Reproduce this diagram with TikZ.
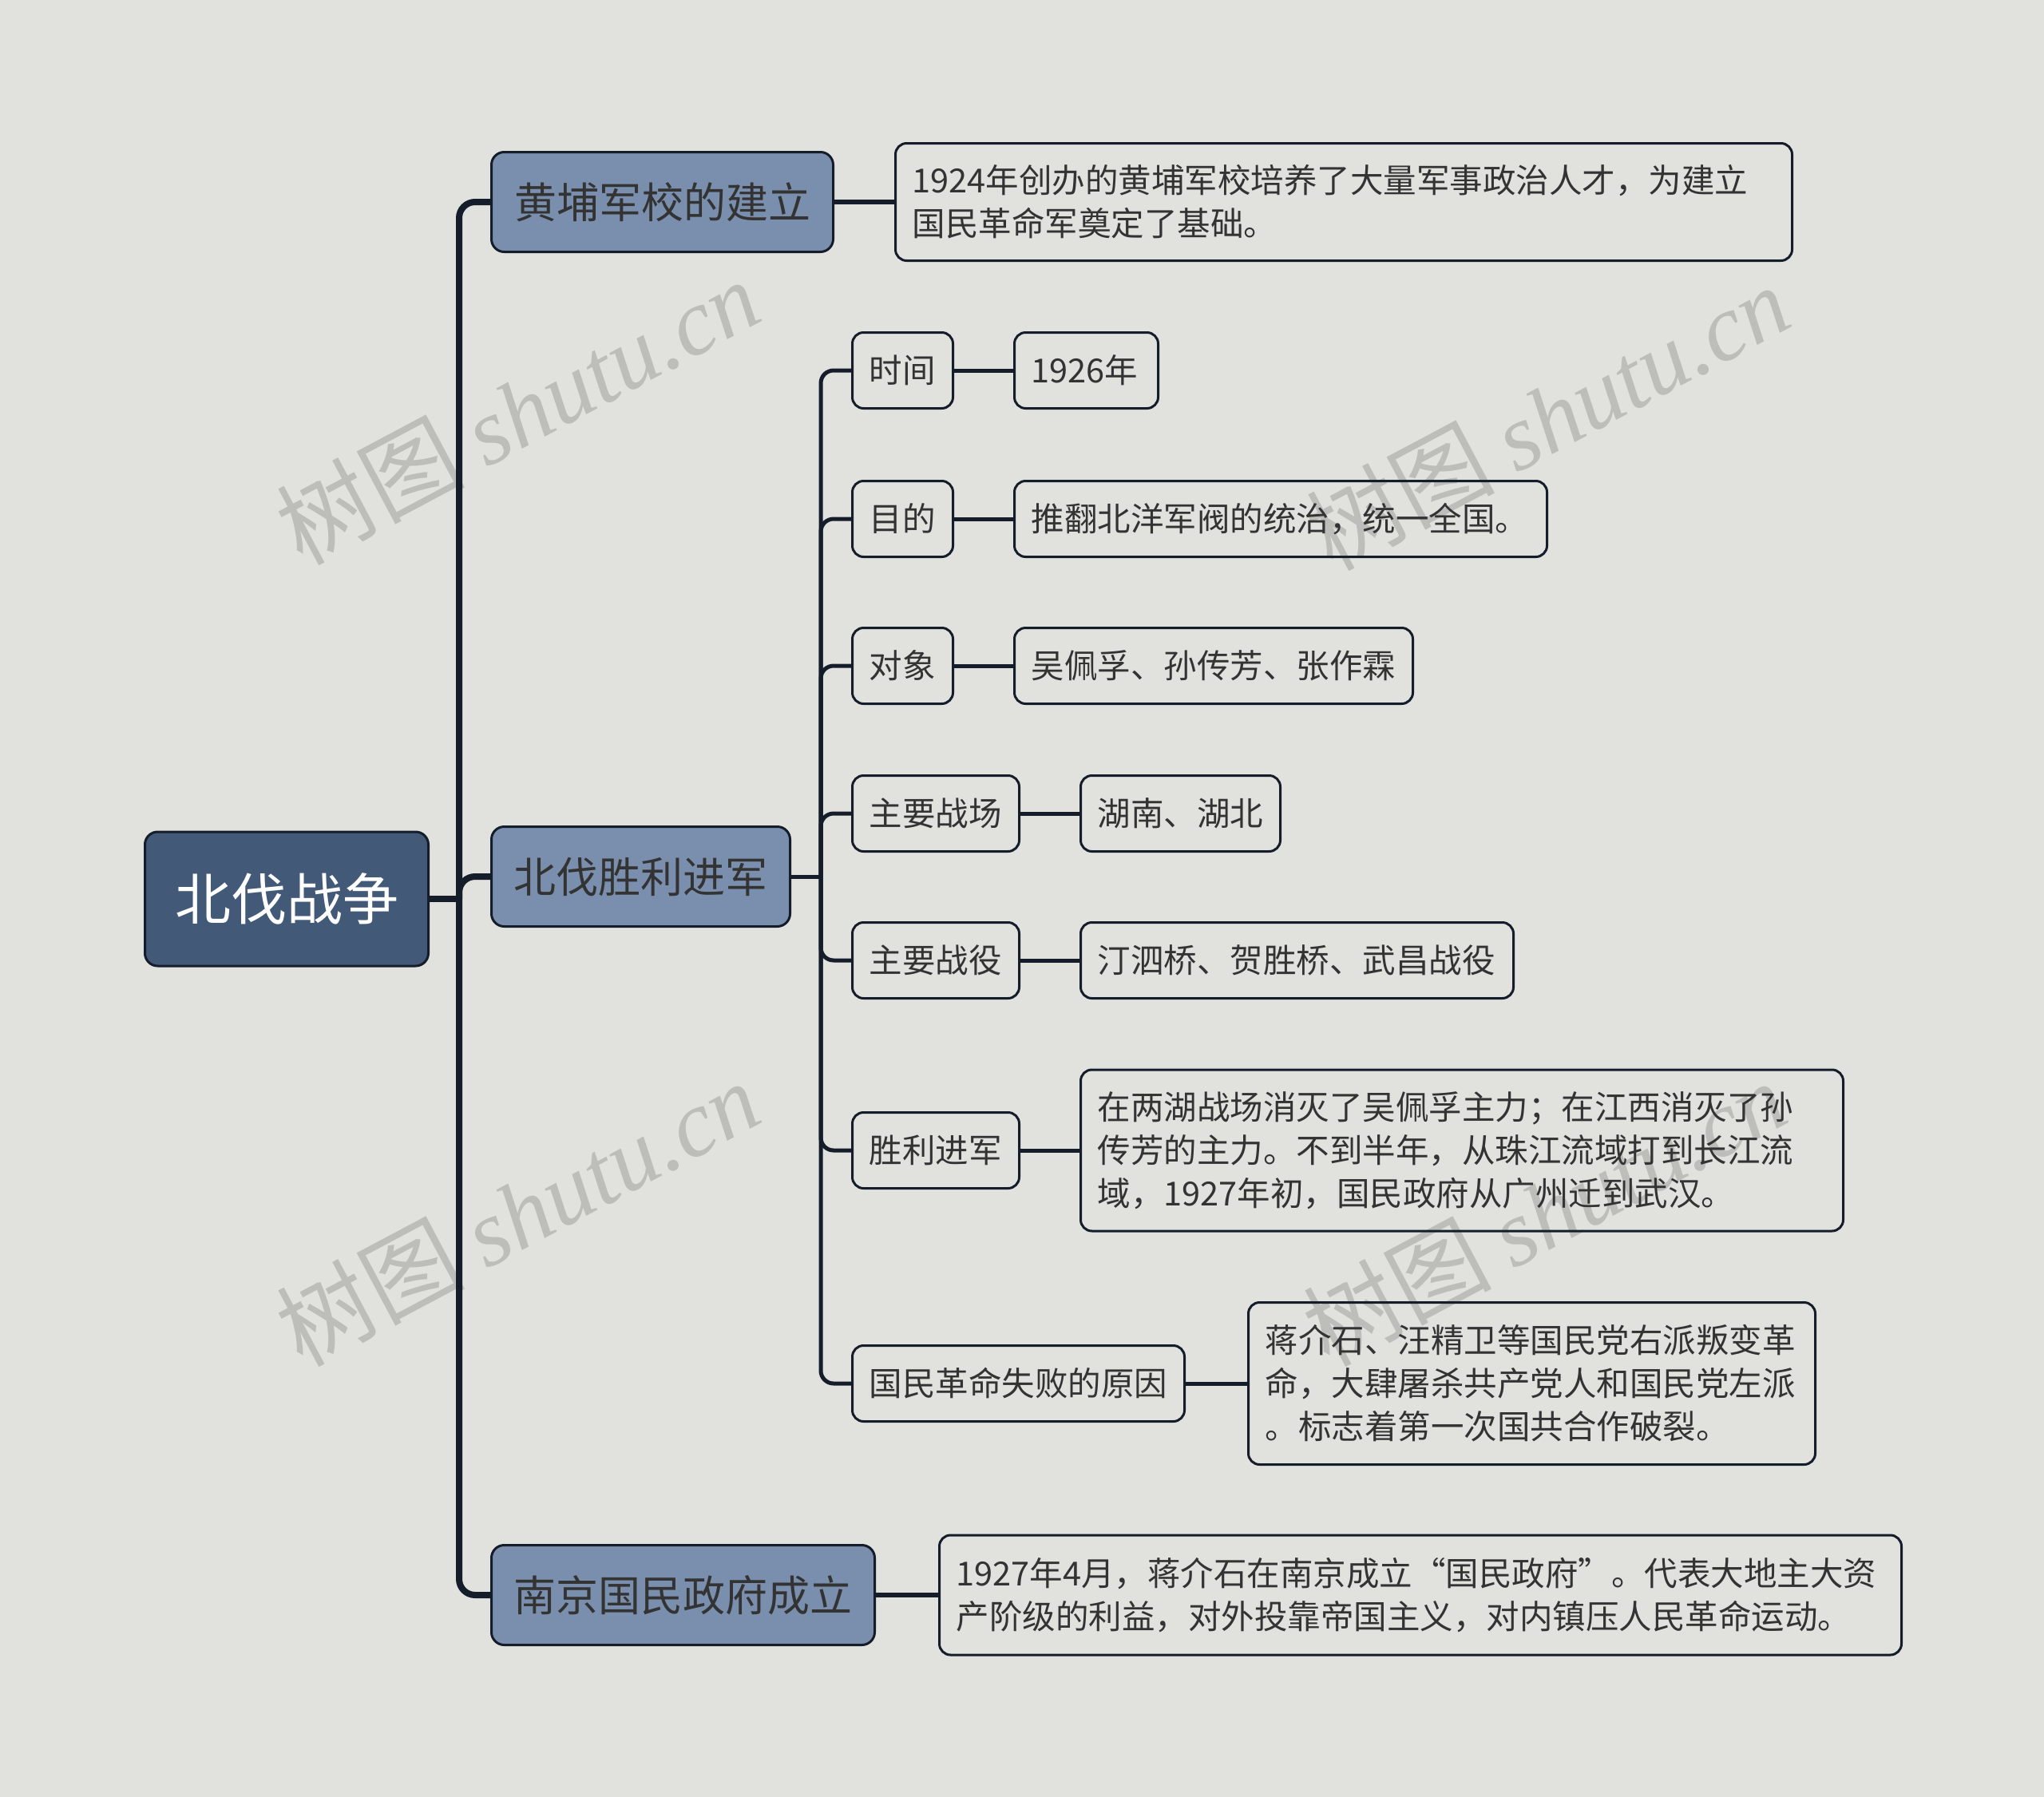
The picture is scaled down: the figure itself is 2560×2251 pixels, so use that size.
\documentclass[tikz,border=0pt]{standalone}
\usepackage{fontspec}
\setmainfont{Noto Sans CJK SC}
\newfontfamily\wmserif{Liberation Serif}
\definecolor{bgc}{HTML}{E1E2DE}
\definecolor{rootc}{HTML}{435978}
\definecolor{lonec}{HTML}{7A8FAD}
\definecolor{linec}{HTML}{151D2B}
\definecolor{txtc}{HTML}{333333}
\definecolor{wmc}{HTML}{BDBEB9}
\pgfdeclarelayer{bgl}
\pgfdeclarelayer{wml}
\pgfdeclarelayer{lines}
\pgfsetlayers{bgl,wml,lines,main}
\tikzset{
  rootbox/.style={draw=linec, line width=3pt, fill=rootc, rounded corners=16pt, text=white,
    font=\fontsize{70}{84}\selectfont, inner xsep=36pt, inner ysep=0pt, anchor=west, align=left},
  lonebox/.style={draw=linec, line width=3pt, fill=lonec, rounded corners=16pt, text=txtc,
    font=\fontsize{53}{64}\selectfont, inner xsep=26pt, inner ysep=0pt, anchor=west, align=left},
  ltwobox/.style={draw=linec, line width=3pt, rounded corners=14pt, text=txtc,
    font=\fontsize{41.5}{54}\selectfont, inner xsep=21pt, inner ysep=0pt, anchor=west, align=left,
    minimum height=95pt},
  mainline/.style={draw=linec, line width=8pt, rounded corners=20pt},
  oneline/.style={draw=linec, line width=6pt},
  twoline/.style={draw=linec, line width=5pt, rounded corners=16pt},
  wmark/.style={text=wmc, rotate=28, font=\fontsize{118}{124}\selectfont, inner sep=0pt}
}
\begin{document}
\begin{tikzpicture}[x=1pt, y=-1pt]
\begin{pgfonlayer}{bgl}
  \fill[bgc] (0,0) rectangle (2560,2251);
\end{pgfonlayer}
\useasboundingbox (0,0) rectangle (2560,2251);

% root and level 1
\node[rootbox, minimum width=355pt, minimum height=168pt] (root) at (180,1126) {北伐战争};
\node[lonebox, minimum width=428pt, minimum height=125pt] (hp) at (614,253) {黄埔军校的建立};
\node[lonebox, minimum width=374pt, minimum height=125pt] (bf) at (614,1098) {北伐胜利进军};
\node[lonebox, minimum width=480pt, minimum height=125pt] (nj) at (614,1998) {南京国民政府成立};

% level 1 leaves
\node[ltwobox, text width=1081pt, minimum height=147pt] (hpl) at (1120,253)
  {1924年创办的黄埔军校培养了大量军事政治人才，为建立\\国民革命军奠定了基础。};
\node[ltwobox, text width=1163pt, minimum height=150pt] (njl) at (1175,1998)
  {1927年4月，蒋介石在南京成立“国民政府”。代表大地主大资\\产阶级的利益，对外投靠帝国主义，对内镇压人民革命运动。};

% level 2
\node[ltwobox, text width=84pt] (t1) at (1066,464) {时间};
\node[ltwobox, text width=138pt] (t1l) at (1269,464) {1926年};
\node[ltwobox, text width=84pt] (t2) at (1066,650) {目的};
\node[ltwobox, text width=625pt] (t2l) at (1269,650) {推翻北洋军阀的统治，统一全国。};
\node[ltwobox, text width=84pt] (t3) at (1066,834) {对象};
\node[ltwobox, text width=457pt] (t3l) at (1269,834) {吴佩孚、孙传芳、张作霖};
\node[ltwobox, text width=167pt] (t4) at (1066,1019) {主要战场};
\node[ltwobox, text width=208pt] (t4l) at (1352,1019) {湖南、湖北};
\node[ltwobox, text width=167pt] (t5) at (1066,1203) {主要战役};
\node[ltwobox, text width=500pt] (t5l) at (1352,1203) {汀泗桥、贺胜桥、武昌战役};
\node[ltwobox, text width=167pt] (t6) at (1066,1441) {胜利进军};
\node[ltwobox, text width=913pt, minimum height=202pt] (t6l) at (1352,1441)
  {在两湖战场消灭了吴佩孚主力；在江西消灭了孙\\传芳的主力。不到半年，从珠江流域打到长江流\\域，1927年初，国民政府从广州迁到武汉。};
\node[ltwobox, text width=374pt] (t7) at (1066,1733) {国民革命失败的原因};
\node[ltwobox, text width=668pt, minimum height=203pt] (t7l) at (1562,1733)
  {蒋介石、汪精卫等国民党右派叛变革\\命，大肆屠杀共产党人和国民党左派\\。标志着第一次国共合作破裂。};

\coordinate (trunkA) at (575,1126);
\coordinate (trunkB) at (1028,1098);

\begin{pgfonlayer}{lines}
  \draw[mainline] (root.east) -- (trunkA);
  \draw[mainline] (trunkA) |- (hp.west);
  \draw[mainline] (trunkA) |- (bf.west);
  \draw[mainline] (trunkA) |- (nj.west);
  \draw[oneline] (hp.east) -- (hpl.west);
  \draw[oneline] (nj.east) -- (njl.west);
  \draw[twoline] (bf.east) -- (trunkB);
  \foreach \n in {t1,t2,t3,t4,t5,t6,t7}{
    \draw[twoline] (trunkB) |- (\n.west);
    \draw[twoline] (\n.east) -- (\n l.west);
  }
\end{pgfonlayer}

\begin{pgfonlayer}{wml}
  \node[wmark] (wma) at (648,515) {树图 {\wmserif\itshape shutu.cn}};
  \node[wmark] (wmb) at (1938,522) {树图 {\wmserif\itshape shutu.cn}};
  \node[wmark] (wmc) at (648,1519) {树图 {\wmserif\itshape shutu.cn}};
  \node[wmark] (wmd) at (1934,1519) {树图 {\wmserif\itshape shutu.cn}};
\end{pgfonlayer}
\end{tikzpicture}
\end{document}
